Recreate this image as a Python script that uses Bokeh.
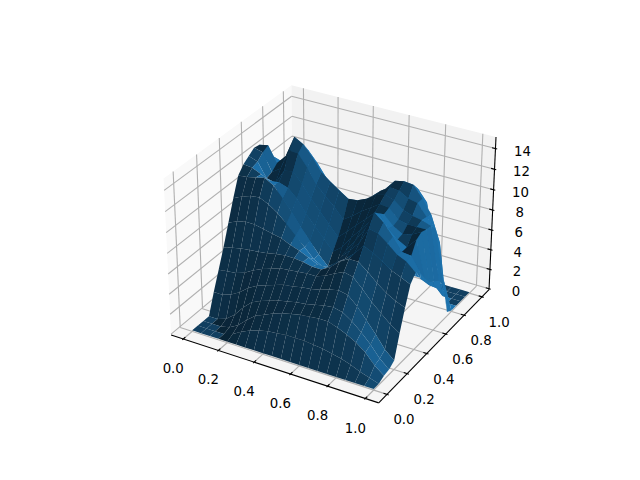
import numpy as np
from bokeh.plotting import figure
from bokeh.models import Range1d
from bokeh.core.properties import value
from bokeh.embed import file_html
from bokeh.resources import INLINE

x_vals = [0.0, 0.05, 0.1, 0.15, 0.2, 0.25, 0.3, 0.35, 0.4, 0.45, 0.5, 0.55, 0.6, 0.65, 0.7, 0.75, 0.8, 0.85, 0.9, 0.95, 1.0]
y_vals = [0.0, 0.05, 0.1, 0.15, 0.2, 0.25, 0.3, 0.35, 0.4, 0.45, 0.5, 0.55, 0.6, 0.65, 0.7, 0.75, 0.8, 0.85, 0.9, 0.95, 1.0]
z_rows = [
    [0, 0, 0, 0, 0, 0, 0, 0, 0, 0, 0, 0, 0, 0, 0, 0, 0, 0, 0, 0, 0],
    [0, 0, 0, 0, .3, .8, 1.2, 1.5, 1.7, 1.8, 1.9, 1.9, 1.9, 1.8, 1.7, 1.5, 1.3, 1, .6, .3, 0],
    [0, 0, 0, .2, .7, 1.5, 2.2, 2.6, 3, 3.3, 3.5, 3.7, 3.8, 3.9, 3.9, 3.6, 3.2, 2.7, 2, 1, .3],
    [0, 0, .3, 1, 2, 2.8, 3.2, 3.5, 3.8, 4, 4.2, 4.3, 4.5, 4.7, 4.8, 4.6, 4, 3.2, 2.3, 1.2, .4],
    [2, 2, 2.3, 2.8, 3.5, 4, 4.3, 4.6, 4.9, 5, 5.2, 5.3, 5.5, 5.8, 6, 5.8, 5, 3.9, 2.8, 1.6, .8],
    [3.8, 3.9, 4, 4.3, 4.8, 5.2, 5.5, 5.8, 5.9, 6, 6.1, 6.1, 6.4, 6.9, 7.3, 7.1, 6.2, 5.2, 4.4, 3.6, 3],
    [5.6, 5.8, 6, 6.1, 6.2, 6.3, 6.5, 6.6, 6.6, 6.5, 6.3, 6.3, 6.8, 7.6, 8.1, 8.1, 7.4, 6.6, 5.9, 5.4, 5],
    [7.6, 8, 8.2, 8.2, 8, 7.8, 7.6, 7.2, 6.9, 6.5, 6.1, 6.0, 6.8, 7.4, 8.2, 9.2, 8.8, 8.2, 7.6, 7.2, 6.8],
    [9.6, 10, 10.3, 10.4, 10, 9.4, 8.6, 7.7, 6.8, 5.9, 5.4, 5.7, 6.9, 7.8, 8.8, 10.4, 10.2, 9.5, 8.7, 8.3, 7.5],
    [11.4, 11.5, 11.7, 11.9, 11.4, 10.4, 9.3, 8.1, 7, 5.9, 5, 5.6, 7.1, 8.3, 9.6, 11.5, 10.8, 9.7, 8.5, 8.4, 7],
    [12.1, 12, 11.6, 11.2, 11.3, 11, 10.2, 9, 8, 7, 6, 6.7, 7.9, 8.9, 10, 11, 9.8, 9, 8.5, 9.5, 6],
    [12.5, 12.2, 10.8, 10.6, 12, 12.2, 11.2, 10, 9, 8, 7, 7.8, 8.7, 9.5, 10.4, 10.5, 9.6, 9.1, 9.3, 9.8, 5.2],
    [12.9, 12.7, 11, 11.6, 13.6, 13.5, 12.4, 11, 10.1, 9.3, 8.3, 8.9, 9.6, 10.2, 10.8, 10.7, 9.8, 9.6, 9.6, 9.6, 4.8],
    [12.8, 13, 11.5, 12.4, 14.5, 14, 13, 11.8, 11.1, 10.5, 9.9, 10, 10.4, 11, 11.3, 11, 10.3, 10, 9.8, 9.5, 4.4],
    [11, 11.5, 11.2, 12.4, 13.6, 13, 12, 10.8, 10, 9.5, 9, 9.5, 10.2, 11, 11.6, 11.5, 11, 10.8, 9.7, 8.8, 3.5],
    [10, 10.1, 10.5, 11.5, 12, 11.5, 10.5, 9.8, 9.2, 8.6, 8, 8.6, 9.8, 10.8, 11.8, 12, 11.9, 10.8, 9.5, 7, .3],
    [7.5, 8, 8.6, 9.4, 10, 9.6, 9, 8.6, 8.2, 7.8, 7.5, 8, 9, 10.2, 11, 11.2, 11.1, 10, 6, 3, 0],
    [4.5, 5, 5.6, 6, 6.5, 6.6, 6.6, 6.4, 6.3, 6, 5.9, 6, 6.6, 7.3, 8, 8.2, 8.2, 5.6, 2.8, 0, 0],
    [2.2, 2.7, 3, 3.4, 3.8, 4, 4, 3.8, 3.6, 3.5, 3.5, 3.6, 3.8, 4.3, 4.8, 4.9, 2.8, .9, 0, 0, 0],
    [.4, .6, .8, 1, 1.2, 1.3, 1.3, 1.2, 1.1, 1.1, 1.1, 1.2, 1.3, 1.5, 1.6, .5, .1, 0, 0, 0, 0],
    [0, 0, 0, 0, 0, 0, 0, 0, 0, 0, 0, 0, 0, 0, 0, 0, 0, 0, 0, 0, 0],
]
x_ticks = [0.0, 0.2, 0.4, 0.6, 0.8, 1.0]
y_ticks = [0.0, 0.2, 0.4, 0.6, 0.8, 1.0]
z_ticks = [0, 2, 4, 6, 8, 10, 12, 14]
xlim = (-0.07, 1.07)
ylim = (-0.08, 1.08)
zlim = (-0.1, 15.1)
base_color = (31, 119, 180)

elev, azim, dist = np.radians(30), np.radians(-60), 10.0
aspect = np.array([4.0, 4.0, 3.0])
box = aspect * 1.8294640721620434 * 25 / 24 / np.linalg.norm(aspect)
R = box / 2
E = R + dist * np.array([np.cos(elev) * np.cos(azim), np.cos(elev) * np.sin(azim), np.sin(elev)])
w = (E - R) / np.linalg.norm(E - R)
u = np.cross([0, 0, 1.0], w); u /= np.linalg.norm(u)
v = np.cross(w, u)


def proj(x, y, z):
    q = np.stack([(np.asarray(x, float) - xlim[0]) / (xlim[1] - xlim[0]) * box[0],
                  (np.asarray(y, float) - ylim[0]) / (ylim[1] - ylim[0]) * box[1],
                  (np.asarray(z, float) - zlim[0]) / (zlim[1] - zlim[0]) * box[2]], axis=-1) - E
    d = -(q @ w)
    return (q @ u) / d, (q @ v) / d, d


S = 369.6 / 0.185
px_to_tx = lambda px: (px - 150.7) / S - 0.095
py_to_ty = lambda py: (433.7 - py) / S - 0.095

p = figure(width=624, height=464, output_backend="svg", toolbar_location=None,
           x_range=Range1d(px_to_tx(8), px_to_tx(632)), y_range=Range1d(py_to_ty(472), py_to_ty(8)),
           min_border=0, outline_line_color=None, background_fill_color="white")
p.axis.visible = False
p.grid.visible = False

x0, x1 = xlim; y0, y1 = ylim; z0, z1 = zlim


def pane(c, fill):
    xs, ys, _ = proj(*np.array(c).T)
    p.patch(list(xs), list(ys), fill_color=fill, line_color=None)


pane([(x0, y0, z0), (x0, y1, z0), (x0, y1, z1), (x0, y0, z1)], "#f9f9f9")
pane([(x0, y1, z0), (x1, y1, z0), (x1, y1, z1), (x0, y1, z1)], "#f2f2f2")
pane([(x0, y0, z0), (x1, y0, z0), (x1, y1, z0), (x0, y1, z0)], "#f5f5f5")


def seg(a, b, color, width):
    xs, ys, _ = proj(*np.array([a, b]).T)
    p.line(list(xs), list(ys), line_color=color, line_width=width)


GRID = "#b0b0b0"
for t in x_ticks:
    seg((t, y0, z0), (t, y1, z0), GRID, 1.1)
    seg((t, y1, z0), (t, y1, z1), GRID, 1.1)
for t in y_ticks:
    seg((x1, t, z0), (x0, t, z0), GRID, 1.1)
    seg((x0, t, z0), (x0, t, z1), GRID, 1.1)
for t in z_ticks:
    seg((x0, y0, t), (x0, y1, t), GRID, 1.1)
    seg((x0, y1, t), (x1, y1, t), GRID, 1.1)

seg((x0, y0, z0), (x1, y0, z0), "black", 1.1)
seg((x1, y0, z0), (x1, y1, z0), "black", 1.1)
seg((x1, y1, z0), (x1, y1, z1), "black", 1.1)
dx, dy, dz = [(b - a) * 0.08 for a, b in (xlim, ylim, zlim)]
for t in x_ticks:
    seg((t, y0 + 0.2 * dy, z0), (t, y0 - 0.1 * dy, z0), "black", 1.1)
for t in y_ticks:
    seg((x1 - 0.2 * dx, t, z0), (x1 + 0.1 * dx, t, z0), "black", 1.1)
for t in z_ticks:
    seg((x1 - 0.2 * dx, y1, t), (x1 + 0.1 * dx, y1, t), "black", 1.1)

Z = np.array(z_rows, float)
X, Y = np.meshgrid(x_vals, y_vals)
light = np.array([np.cos(np.radians(-135)) * np.cos(np.radians(19.4712)),
                  np.sin(np.radians(-135)) * np.cos(np.radians(19.4712)),
                  np.sin(np.radians(19.4712))])
quads = []
for j in range(Z.shape[0] - 1):
    for i in range(Z.shape[1] - 1):
        idx = [(j, i), (j, i + 1), (j + 1, i + 1), (j + 1, i)]
        qx = np.array([X[k] for k in idx]); qy = np.array([Y[k] for k in idx]); qz = np.array([Z[k] for k in idx])
        a = np.array([qx[2] - qx[0], qy[2] - qy[0], qz[2] - qz[0]])
        b = np.array([qx[3] - qx[1], qy[3] - qy[1], qz[3] - qz[1]])
        n = np.cross(b, a)
        n /= np.linalg.norm(n)
        s = 0.3 + 0.7 * (n @ light + 1) / 2
        col = "#%02x%02x%02x" % tuple(int(round(c * s)) for c in base_color)
        tx, ty, d = proj(qx, qy, qz)
        quads.append((d.mean(), list(tx), list(ty), col))
quads.sort(key=lambda q: -q[0])
p.patches([q[1] for q in quads], [q[2] for q in quads], fill_color=[q[3] for q in quads],
          line_color=None)


def labels(tx, ty, txt, ox, oy):
    p.text(list(tx), list(ty), text=txt, x_offset=ox, y_offset=oy, text_align="center", text_baseline="middle",
           text_font=value("DejaVu Sans"), text_font_size="13.33px", text_color="black")


tx, ty, _ = proj(np.array(x_ticks), np.full(6, y0), np.full(6, z0))
labels(tx, ty, [f"{t:.1f}" for t in x_ticks], -10, 29)
tx, ty, _ = proj(np.full(6, x1), np.array(y_ticks), np.full(6, z0))
labels(tx, ty, [f"{t:.1f}" for t in y_ticks], 17, 25)
tx, ty, _ = proj(np.full(8, x1), np.full(8, y1), np.array(z_ticks, float))
labels(tx, ty, [str(t) for t in z_ticks], 27, 2)

open("out.html", "w").write(file_html(p, INLINE))
